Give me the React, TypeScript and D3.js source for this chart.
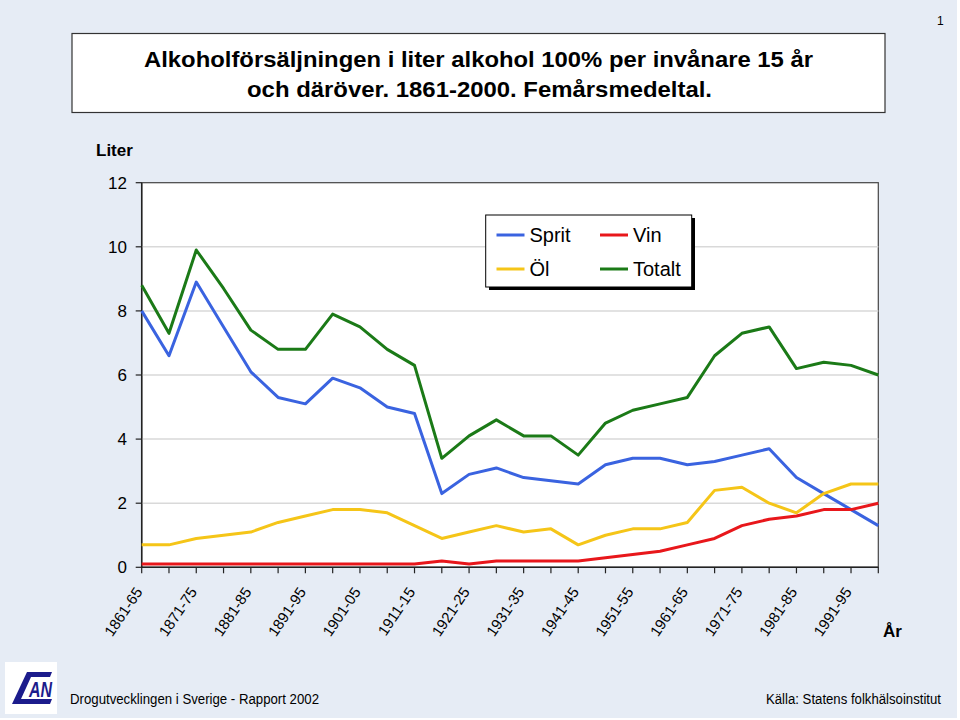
import React from "react";
import * as d3 from "d3";

const periods = [
  "1861-65", "1866-70", "1871-75", "1876-80", "1881-85", "1886-90", "1891-95",
  "1896-00", "1901-05", "1906-10", "1911-15", "1916-20", "1921-25", "1926-30",
  "1931-35", "1936-40", "1941-45", "1946-50", "1951-55", "1956-60", "1961-65",
  "1966-70", "1971-75", "1976-80", "1981-85", "1986-90", "1991-95", "1996-00",
];
const sprit = [8.0, 6.6, 8.9, 7.5, 6.1, 5.3, 5.1, 5.9, 5.6, 5.0, 4.8, 2.3, 2.9, 3.1, 2.8, 2.7, 2.6, 3.2, 3.4, 3.4, 3.2, 3.3, 3.5, 3.7, 2.8, 2.3, 1.8, 1.3];
const vin = [0.1, 0.1, 0.1, 0.1, 0.1, 0.1, 0.1, 0.1, 0.1, 0.1, 0.1, 0.2, 0.1, 0.2, 0.2, 0.2, 0.2, 0.3, 0.4, 0.5, 0.7, 0.9, 1.3, 1.5, 1.6, 1.8, 1.8, 2.0];
const ol = [0.7, 0.7, 0.9, 1.0, 1.1, 1.4, 1.6, 1.8, 1.8, 1.7, 1.3, 0.9, 1.1, 1.3, 1.1, 1.2, 0.7, 1.0, 1.2, 1.2, 1.4, 2.4, 2.5, 2.0, 1.7, 2.3, 2.6, 2.6];
const totalt = [8.8, 7.3, 9.9, 8.7, 7.4, 6.8, 6.8, 7.9, 7.5, 6.8, 6.3, 3.4, 4.1, 4.6, 4.1, 4.1, 3.5, 4.5, 4.9, 5.1, 5.3, 6.6, 7.3, 7.5, 6.2, 6.4, 6.3, 6.0];
const yTicks = [0, 2, 4, 6, 8, 10, 12];
const seriesNames = ["Sprit", "Vin", "Öl", "Totalt"];
const seriesColors = ["#3A63E0", "#E8171B", "#F5C518", "#1B7A17"];

const titleLines = [
  "Alkoholförsäljningen i liter alkohol 100% per invånare 15 år",
  "och däröver. 1861-2000. Femårsmedeltal.",
];

export default function App() {
  const W = 960, H = 720;
  const L = 141.7, R = 878.3, T = 182.7, B = 567.3;
  const x = d3.scalePoint<string>().domain(periods).range([L, R]);
  const y = d3.scaleLinear().domain([0, 12]).range([B, T]);
  const seriesData = [sprit, vin, ol, totalt];
  const line = d3
    .line<number>()
    .x((_, i) => x(periods[i]) as number)
    .y((d) => y(d));
  const font = "Liberation Sans, Arial, Helvetica, sans-serif";
  const drawOrder = [0, 1, 2, 3];

  return (
    <svg
      width={W}
      height={H}
      style={{ position: "absolute", left: 0, top: 0, display: "block" }}
      fontFamily={font}
    >
      <rect x={0} y={0} width={957} height={718} fill="#E6ECF5" />
      <text x={937} y={25} fontSize={12} fill="#000">1</text>

      {/* Title box */}
      <rect x={72} y={33.5} width={813} height={79} fill="#fff" stroke="#333" strokeWidth={1.2} />
      <text x={478.5} y={66.5} textAnchor="middle" fontSize={22.5} fontWeight="bold" textLength={669} lengthAdjust="spacingAndGlyphs">
        {titleLines[0]}
      </text>
      <text x={479.5} y={96.5} textAnchor="middle" fontSize={22.5} fontWeight="bold" textLength={465} lengthAdjust="spacingAndGlyphs">
        {titleLines[1]}
      </text>

      <text x={96} y={156} fontSize={17} fontWeight="bold">Liter</text>

      {/* Plot area */}
      <rect x={L} y={T} width={R - L} height={B - T} fill="#fff" stroke="#444" strokeWidth={1.2} />
      {yTicks.filter((t) => t > 0 && t < 12).map((t) => (
        <line key={t} x1={L} x2={R} y1={y(t)} y2={y(t)} stroke="#D9D9D9" strokeWidth={1.5} />
      ))}
      <line x1={L} x2={L} y1={T} y2={B} stroke="#222" strokeWidth={1.5} />
      <line x1={L} x2={R} y1={B} y2={B} stroke="#222" strokeWidth={1.5} />
      {yTicks.map((t) => (
        <g key={t}>
          <line x1={L - 6} x2={L} y1={y(t)} y2={y(t)} stroke="#222" strokeWidth={1.2} />
          <text x={127} y={y(t)} dy="0.36em" textAnchor="end" fontSize={17}>{t}</text>
        </g>
      ))}
      {periods.map((p) => (
        <line key={p} x1={x(p)} x2={x(p)} y1={B} y2={B + 6} stroke="#222" strokeWidth={1.2} />
      ))}
      {periods.filter((_, i) => i % 2 === 0).map((p) => (
        <text
          key={p}
          transform={`translate(${(x(p) as number) - 3},${589}) rotate(-56)`}
          textAnchor="end"
          dy="0.35em"
          fontSize={15}
        >
          {p}
        </text>
      ))}
      <text x={883} y={637} fontSize={17} fontWeight="bold">År</text>

      {/* Lines */}
      {drawOrder.map((k) => (
        <path key={k} d={line(seriesData[k]) || ""} fill="none" stroke={seriesColors[k]} strokeWidth={3} strokeLinejoin="round" />
      ))}

      {/* Legend */}
      <rect x={489} y={218} width={206} height={72} fill="#000" />
      <rect x={485.7} y={215} width={206} height={72} fill="#fff" stroke="#000" strokeWidth={1} />
      {seriesNames.map((n, i) => {
        const col = i % 2;
        const row = Math.floor(i / 2);
        const lx = 496.5 + col * 103.5;
        const ly = 235 + row * 34;
        return (
          <g key={n}>
            <line x1={lx} x2={lx + 28} y1={ly} y2={ly} stroke={seriesColors[i]} strokeWidth={3} />
            <text x={lx + 33} y={ly} dy="0.36em" fontSize={20}>{n}</text>
          </g>
        );
      })}

      {/* Logo */}
      <rect x={5} y={662} width={52} height={52} fill="#fff" />
      <polygon points="27,672 52,672 50,677 31,677 21,699 52,699 50,704 12,704" fill="#1C1C8C" />
      <text x={29} y={697} fontSize={22} fontWeight="bold" fontStyle="italic" fill="#1C1C8C" textLength={23} lengthAdjust="spacingAndGlyphs">AN</text>

      {/* Footer */}
      <text x={70} y={704} fontSize={14} textLength={249} lengthAdjust="spacingAndGlyphs">
        Drogutvecklingen i Sverige - Rapport 2002
      </text>
      <text x={766} y={704} fontSize={14} textLength={175} lengthAdjust="spacingAndGlyphs">
        Källa: Statens folkhälsoinstitut
      </text>
    </svg>
  );
}
